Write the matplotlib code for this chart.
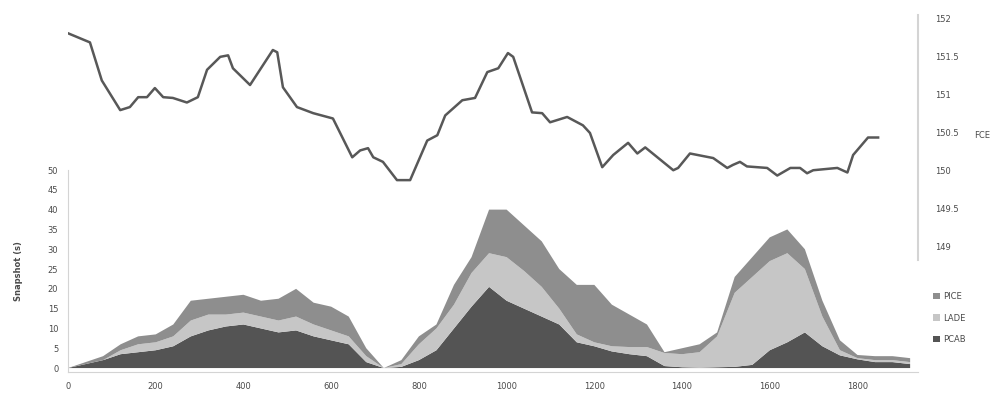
"""Stacked time breakdown with overlaid FCE line (secondary right axis)"""
import matplotlib
matplotlib.use("Agg")
import matplotlib.pyplot as plt

_TEXT = "#4a4a4a"
_SPINE = "#d4d4d4"
_DARK = "#545454"
_LIGHT = "#c6c6c6"
_MID = "#8e8e8e"
_LINE = "#585858"

# ── stacked area data (shared x grid) ────────────────────────────────────────
x_grid = [0, 40, 80, 120, 160, 200, 240, 280, 320, 360, 400, 440, 480, 520, 560,
          600, 640, 680, 720, 760, 800, 840, 880, 920, 960, 1000, 1040, 1080,
          1120, 1160, 1200, 1240, 1280, 1320, 1360, 1400, 1440, 1480, 1520,
          1560, 1600, 1640, 1680, 1720, 1760, 1800, 1840, 1880, 1920]
pcab = [0, 1, 2, 3.5, 4, 4.5, 5.5, 8, 9.5, 10.5, 11, 10, 9, 9.5, 8,
        7, 6, 1.5, 0, 0.3, 2, 4.5, 10, 15.5, 20.5, 17, 15, 13,
        11, 6.5, 5.5, 4.2, 3.5, 3, 0.5, 0.2, 0.1, 0.2, 0.3,
        0.8, 4.5, 6.5, 9, 5.5, 3.2, 2.2, 1.5, 1.5, 1]
lade = [0, 0, 0, 1, 2, 2, 2.5, 4, 4, 3, 3, 3, 3, 3.5, 3,
        2.5, 2, 1.5, 0, 0.7, 4, 5.5, 6, 8.5, 8.5, 11, 9.5, 7.5,
        4, 2, 1, 1.3, 1.8, 2.3, 3.3, 3.3, 3.9, 7.8, 18.7,
        22.2, 22.5, 22.5, 16, 7.5, 1.3, 0.3, 0.5, 0.5, 0.5]
pice = [0, 0.5, 1, 1.5, 2, 2, 3, 5, 4, 4.5, 4.5, 4, 5.5, 7, 5.5,
        6, 5, 2, 0, 1, 2, 1, 5, 4, 11, 12, 11.5, 11.5,
        10, 12.5, 14.5, 10.5, 8.2, 5.7, 0.2, 1.5, 2, 1, 4,
        5, 6, 6, 5, 4, 2.5, 0.8, 1, 1, 1]

# ── FCE line data ─────────────────────────────────────────────────────────────
fce_x = [0, 50, 77, 119, 141, 160, 180, 198, 217, 239, 271, 296, 317, 347, 365,
         376, 415, 467, 477, 490, 522, 559, 604, 648, 666, 684, 696, 718, 750,
         780, 819, 842, 860, 899, 928, 956, 981, 1003, 1015, 1058, 1081, 1099,
         1138, 1174, 1190, 1218, 1243, 1277, 1298, 1316, 1380, 1391, 1418, 1471,
         1503, 1516, 1532, 1548, 1594, 1617, 1647, 1669, 1685, 1699, 1754, 1777,
         1790, 1824, 1847]
fce_y = [151.80, 151.68, 151.18, 150.79, 150.83, 150.96, 150.96, 151.08, 150.96,
         150.95, 150.89, 150.96, 151.32, 151.49, 151.51, 151.34, 151.12, 151.58,
         151.55, 151.09, 150.83, 150.75, 150.68, 150.17, 150.26, 150.29, 150.17,
         150.11, 149.87, 149.87, 150.39, 150.46, 150.72, 150.92, 150.95, 151.29,
         151.34, 151.54, 151.49, 150.76, 150.75, 150.63, 150.70, 150.59, 150.49,
         150.04, 150.20, 150.36, 150.22, 150.30, 150.00, 150.03, 150.22, 150.16,
         150.03, 150.07, 150.11, 150.05, 150.03, 149.93, 150.03, 150.03, 149.96,
         150.00, 150.03, 149.97, 150.20, 150.43, 150.43]

x_ticks = [0, 200, 400, 600, 800, 1000, 1200, 1400, 1600, 1800]
y_ticks = [0, 5, 10, 15, 20, 25, 30, 35, 40, 45, 50]
fce_ticks = [149, 149.5, 150, 150.5, 151, 151.5, 152]
layer_names = ["PCAB", "LADE", "PICE"]

plt.rcParams["font.family"] = "DejaVu Sans"

fig = plt.figure(figsize=(9.93, 3.98), dpi=100, facecolor="white")
XMAX = 1938

# ── bottom: stacked areas ────────────────────────────────────────────────────
ax = fig.add_axes([0.0685, 0.0653, 0.856, 0.5075])
ax.stackplot(x_grid, pcab, lade, pice, colors=[_DARK, _LIGHT, _MID],
             labels=layer_names, linewidth=0)
ax.set_xlim(0, XMAX)
ax.set_ylim(-1, 50)
ax.set_xticks(x_ticks)
ax.set_yticks(y_ticks)
ax.tick_params(length=0, labelsize=6, colors=_TEXT, pad=7)
ax.set_ylabel("Snapshot (s)", fontsize=6, color=_TEXT, fontweight="bold", labelpad=18)
for name in ("top", "right"):
    ax.spines[name].set_visible(False)
for name in ("left", "bottom"):
    ax.spines[name].set_color(_SPINE)
ax.patch.set_alpha(0)

handles, labels = ax.get_legend_handles_labels()
ax.legend(handles[::-1], labels[::-1], loc="upper left",
          bbox_to_anchor=(0.932, 0.285), bbox_transform=fig.transFigure,
          frameon=False, fontsize=6, labelcolor=_TEXT,
          handlelength=0.8, handleheight=0.8, handletextpad=0.4, labelspacing=1.5)

# ── top: FCE line on right axis ──────────────────────────────────────────────
ax2 = fig.add_axes([0.0685, 0.3467, 0.856, 0.6156])
ax2.patch.set_alpha(0)
ax2.plot(fce_x, fce_y, color=_LINE, linewidth=1.8)
ax2.set_xlim(0, XMAX)
ax2.set_ylim(148.82, 152.04)
ax2.set_xticks([])
ax2.yaxis.tick_right()
ax2.set_yticks(fce_ticks)
ax2.set_yticklabels([f"{v:g}" for v in fce_ticks])
ax2.tick_params(length=0, labelsize=6, colors=_TEXT, pad=12)
for name in ("top", "left", "bottom"):
    ax2.spines[name].set_visible(False)
ax2.spines["right"].set_color(_SPINE)
ax2.spines["right"].set_linewidth(1.5)
ax2.set_ylabel("FCE", fontsize=6, color=_TEXT, rotation=0, va="center")
ax2.yaxis.set_label_position("right")
ax2.yaxis.set_label_coords(1.075, 0.525)

fig.savefig("out.png", dpi=100, facecolor="white")
